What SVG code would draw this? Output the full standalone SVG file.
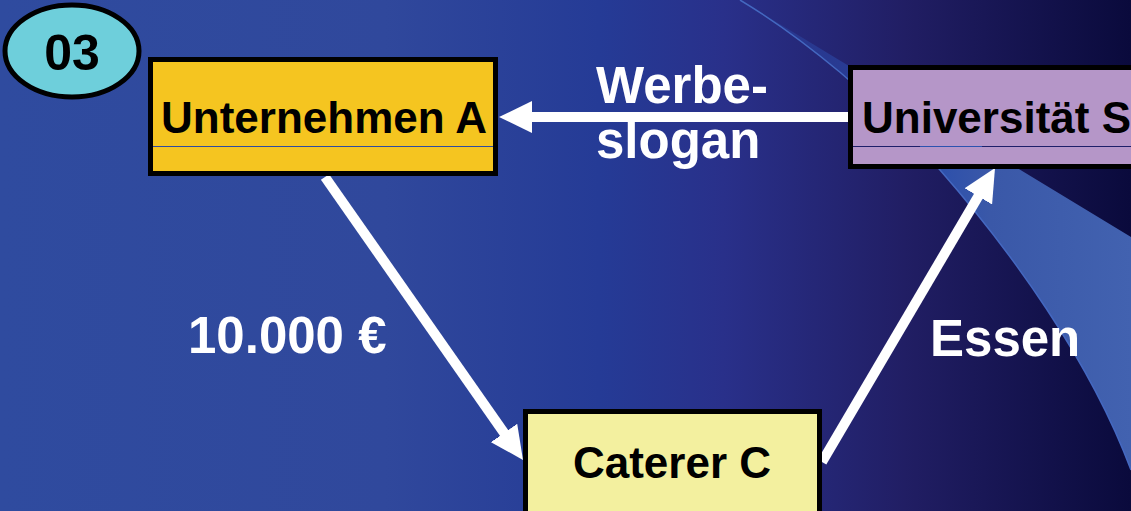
<svg xmlns="http://www.w3.org/2000/svg" width="1131" height="511" viewBox="0 0 1131 511">
  <defs>
    <linearGradient id="bg" x1="0" y1="0" x2="1131" y2="0" gradientUnits="userSpaceOnUse">
      <stop offset="0" stop-color="#2f4b9f"/>
      <stop offset="0.34" stop-color="#30489c"/>
      <stop offset="0.53" stop-color="#253b96"/>
      <stop offset="0.64" stop-color="#29308a"/>
      <stop offset="0.8" stop-color="#211e64"/>
      <stop offset="1" stop-color="#0a0a3c"/>
    </linearGradient>
    <linearGradient id="sw" x1="760" y1="0" x2="1131" y2="0" gradientUnits="userSpaceOnUse">
      <stop offset="0" stop-color="#29358c"/>
      <stop offset="0.28" stop-color="#283c94"/>
      <stop offset="0.45" stop-color="#2a4eac"/>
      <stop offset="0.62" stop-color="#3a58a8"/>
      <stop offset="1" stop-color="#4262b0"/>
    </linearGradient>
    <marker id="ah" viewBox="0 0 33 32" markerWidth="33" markerHeight="32" markerUnits="userSpaceOnUse" refX="3" refY="16" orient="auto">
      <path d="M0,0 L33,16 L0,32 z" fill="#ffffff"/>
    </marker>
    <style>
      .box { stroke: #000; stroke-width: 5; }
      .lbl { font-family: "Liberation Sans", Arial, sans-serif; font-weight: bold; font-size: 44px; fill: #000; }
      .edge { font-family: "Liberation Sans", Arial, sans-serif; font-weight: bold; font-size: 51px; fill: #fff; }
      .conn { stroke: #fff; stroke-width: 10; fill: none; marker-end: url(#ah); }
    </style>
  </defs>

  <rect x="0" y="0" width="1131" height="511" fill="url(#bg)"/>
  <path d="M740,0 L1131,237 L1131,470 C1090,360 1010,250 940,170 C880,100 800,36 740,0 z" fill="url(#sw)"/>
  <path d="M740,0 C800,36 880,100 940,170 C1010,250 1090,360 1131,470" fill="none" stroke="#4468c0" stroke-width="1.5"/>

  <g id="connectors">
    <line class="conn" x1="848" y1="117" x2="529" y2="117"/>
    <line class="conn" x1="325" y1="177" x2="505.8" y2="435.4"/>
    <line class="conn" x1="822" y1="462" x2="979.8" y2="193.8"/>
  </g>

  <g id="badge">
    <ellipse cx="72" cy="51" rx="67" ry="46" fill="#6ecfdb" stroke="#000" stroke-width="5"/>
    <text x="72" y="70" text-anchor="middle" font-family="Liberation Sans, Arial, sans-serif" font-weight="bold" font-size="50" fill="#000">03</text>
  </g>

  <g id="unternehmen-a">
    <rect x="150.5" y="59.5" width="345" height="114" fill="#000"/>
    <rect x="153" y="62" width="340" height="84" fill="#f5c520"/>
    <rect x="153" y="147" width="340" height="24" fill="#f5c520"/>
    <line x1="153" y1="146.5" x2="493" y2="146.5" stroke="#2f4ca0" stroke-width="1"/>
    <rect class="box" x="150.5" y="59.5" width="345" height="114" fill="none"/>
    <text class="lbl" x="324" y="133" text-anchor="middle">Unternehmen A</text>
  </g>

  <g id="universitaet-s">
    <rect x="853" y="70" width="290" height="76" fill="#b596c8"/>
    <rect x="853" y="147" width="290" height="20" fill="#b596c8"/>
    <line x1="853" y1="146.5" x2="1131" y2="146.5" stroke="#1e1f6a" stroke-width="1"/>
    <line x1="920" y1="146.5" x2="982" y2="146.5" stroke="#2c52b0" stroke-width="1"/>
    <rect class="box" x="850.5" y="67.5" width="300" height="99" fill="none"/>
    <text class="lbl" x="862" y="133">Universität S</text>
  </g>

  <g id="caterer-c">
    <rect class="box" x="525.5" y="411.5" width="294" height="130" fill="#f3f09f"/>
    <text class="lbl" x="672" y="478" text-anchor="middle">Caterer C</text>
  </g>

  <g id="labels">
    <text class="edge" x="596" y="103">Werbe-</text>
    <text class="edge" x="596" y="158">slogan</text>
    <text class="edge" x="188" y="353">10.000 €</text>
    <text class="edge" x="930" y="356">Essen</text>
  </g>
</svg>
